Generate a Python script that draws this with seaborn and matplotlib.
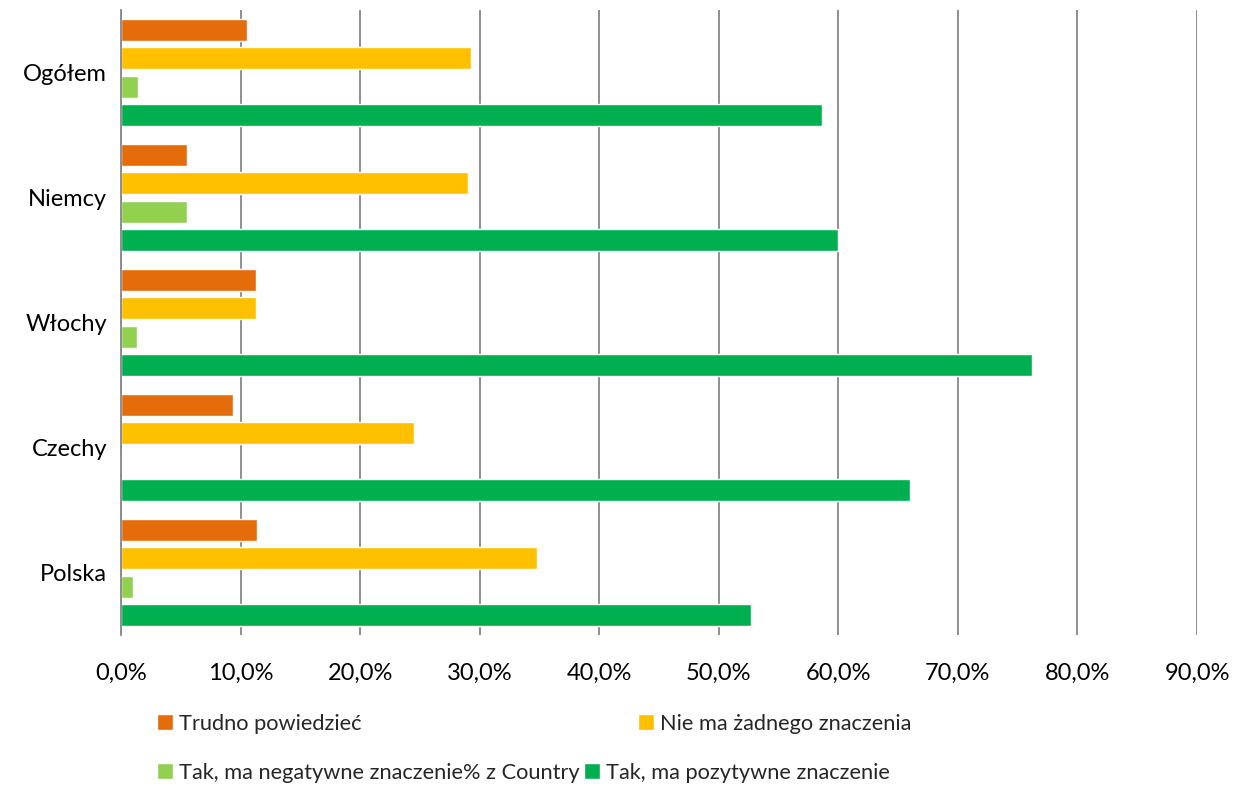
import matplotlib
matplotlib.use("Agg")
import matplotlib.pyplot as plt
import seaborn as sns
import pandas as pd

categories = ["Ogółem", "Niemcy", "Włochy", "Czechy", "Polska"]
series_names = ["Trudno powiedzieć", "Nie ma żadnego znaczenia",
                "Tak, ma negatywne znaczenie% z Country", "Tak, ma pozytywne znaczenie"]
trudno = [10.5, 5.5, 11.25, 9.4, 11.4]
nie_ma = [29.3, 29.0, 11.25, 24.5, 34.8]
negatywne = [1.4, 5.5, 1.3, 0.0, 1.0]
pozytywne = [58.6, 60.0, 76.2, 66.0, 52.7]
tick_values = [0, 10, 20, 30, 40, 50, 60, 70, 80, 90]
tick_labels = ["0,0%", "10,0%", "20,0%", "30,0%", "40,0%", "50,0%", "60,0%", "70,0%", "80,0%", "90,0%"]
colors = ["#E46C0A", "#FFC000", "#92D050", "#00B050"]

rows = []
for name, vals in zip(series_names, [trudno, nie_ma, negatywne, pozytywne]):
    for c, v in zip(categories, vals):
        rows.append({"kraj": c, "seria": name, "wartosc": v})
df = pd.DataFrame(rows)

sns.set_style("white")
plt.rcParams["font.family"] = ["Lato", "DejaVu Sans"]

fig = plt.figure(figsize=(12.34, 7.86), dpi=100)
ax = fig.add_axes([121 / 1234, 1 - 635 / 786, (1197 - 121) / 1234, 625 / 786])

sns.barplot(data=df, y="kraj", x="wartosc", hue="seria", order=categories,
            hue_order=series_names, palette=colors, orient="h",
            width=0.905, gap=0.22, legend=False, ax=ax, saturation=1)

ax.set_xlim(0, 90)
ax.set_ylim(4.5, -0.5)
ax.set_xticks(tick_values)
ax.set_xticklabels(tick_labels)
ax.set_xlabel("")
ax.set_ylabel("")
ax.tick_params(axis="x", length=0, pad=20, labelsize=17, labelcolor="#000000")
ax.tick_params(axis="y", length=0, pad=10, labelsize=17, labelcolor="#000000")
ax.grid(axis="x", color="#868686", linewidth=1.3)
ax.grid(axis="y", visible=False)
ax.set_axisbelow(True)
for s in ["top", "right", "bottom"]:
    ax.spines[s].set_visible(False)
ax.spines["left"].set_color("#868686")
ax.spines["left"].set_linewidth(1.3)

handles = [c.patches[0] for c in ax.containers]
positions = [(157, 724), (638, 724), (157, 773), (584, 773)]
for h, lab, (px, py) in zip(handles, series_names, positions):
    fig.legend([h], [lab], loc="center left", bbox_to_anchor=(px / 1234, 1 - py / 786),
               frameon=False, borderpad=0, borderaxespad=0, fontsize=15.7,
               handlelength=0.75, handleheight=0.75, handletextpad=0.25)

fig.savefig("out.png", dpi=100)
